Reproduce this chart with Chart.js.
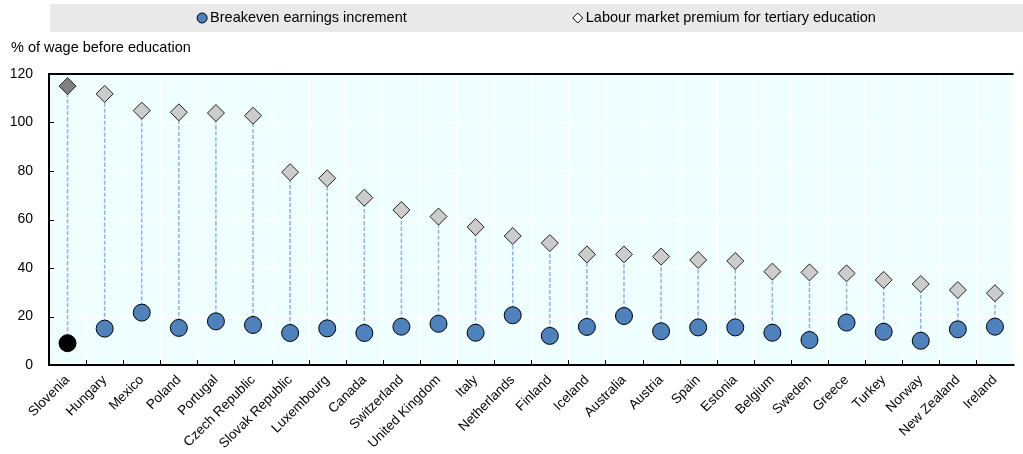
<!DOCTYPE html>
<html>
<head>
<meta charset="utf-8">
<script src="https://cdn.jsdelivr.net/npm/chart.js@4.4.1/dist/chart.umd.min.js"></script>
<style>
  html, body { margin: 0; padding: 0; background: #ffffff; }
  #wrap { width: 1023px; height: 454px; position: relative; }
</style>
</head>
<body>
<div id="wrap"><canvas id="chart" width="1023" height="454"></canvas></div>
<script>
// Countries, sorted by labour market premium
const countries = [
  'Slovenia', 'Hungary', 'Mexico', 'Poland', 'Portugal', 'Czech Republic',
  'Slovak Republic', 'Luxembourg', 'Canada', 'Switzerland', 'United Kingdom',
  'Italy', 'Netherlands', 'Finland', 'Iceland', 'Australia', 'Austria', 'Spain',
  'Estonia', 'Belgium', 'Sweden', 'Greece', 'Turkey', 'Norway', 'New Zealand', 'Ireland'
];

// Breakeven earnings increment (% of wage before education)
const breakeven = [
  9.0, 15.0, 21.6, 15.3, 18.0, 16.5,
  13.2, 15.1, 13.2, 15.8, 17.0,
  13.3, 20.5, 12.0, 15.7, 20.2, 13.9, 15.5,
  15.5, 13.3, 10.3, 17.5, 13.7, 10.0, 14.7, 15.8
];

// Labour market premium for tertiary education (% of wage before education)
const premium = [
  115.0, 111.8, 104.9, 104.2, 103.9, 102.8,
  79.5, 77.0, 69.0, 63.9, 61.2,
  56.9, 53.2, 50.3, 45.6, 45.6, 44.7, 43.3,
  42.9, 38.5, 38.2, 37.8, 35.1, 33.4, 30.9, 29.6
];

const seriesNames = ['Breakeven earnings increment', 'Labour market premium for tertiary education'];
const yTicks = [0, 20, 40, 60, 80, 100, 120];
const yTitle = '% of wage before education';
const highlighted = 'Slovenia';

const FONT = "'Liberation Sans', Arial, sans-serif";
const TICK_SIZE = 13.5;
const CAPTION_SIZE = 14.5;

const circleFill = countries.map(c => c === highlighted ? '#000000' : '#4f81bd');
const diamondFill = countries.map(c => c === highlighted ? '#808080' : '#cccccc');

// Plot-area background, frame and inward tick marks
const framePlugin = {
  id: 'frame',
  beforeDraw(chart) {
    const { ctx, chartArea: a } = chart;
    ctx.save();
    ctx.fillStyle = '#efffff';
    ctx.fillRect(a.left, a.top, a.right - a.left, a.bottom - a.top);
    ctx.restore();
  },
  afterDraw(chart) {
    const { ctx, chartArea: a, scales } = chart;
    ctx.save();
    ctx.strokeStyle = '#000000';
    ctx.lineWidth = 2;
    ctx.beginPath();
    ctx.moveTo(a.left, a.top);
    ctx.lineTo(a.right, a.top);
    ctx.stroke();
    ctx.lineWidth = 1;
    ctx.beginPath();
    for (let i = 1; i < countries.length; i++) {
      const x = Math.round(scales.x.getPixelForValue(i - 0.5)) + 0.5;
      ctx.moveTo(x, a.bottom);
      ctx.lineTo(x, a.bottom - 5);
    }
    yTicks.forEach(v => {
      if (v === 0 || v === yTicks[yTicks.length - 1]) return;
      const y = Math.round(scales.y.getPixelForValue(v)) + 0.5;
      ctx.moveTo(a.left, y);
      ctx.lineTo(a.left + 5, y);
    });
    ctx.stroke();
    ctx.restore();
  }
};

// Dashed connectors between the two markers of each country
const connectorPlugin = {
  id: 'connectors',
  beforeDatasetsDraw(chart) {
    const { ctx } = chart;
    const lo = chart.getDatasetMeta(0).data;
    const hi = chart.getDatasetMeta(1).data;
    ctx.save();
    ctx.strokeStyle = '#8db3e2';
    ctx.lineWidth = 1.5;
    ctx.setLineDash([4, 2]);
    ctx.beginPath();
    for (let i = 0; i < lo.length; i++) {
      ctx.moveTo(lo[i].x, lo[i].y);
      ctx.lineTo(hi[i].x, hi[i].y);
    }
    ctx.stroke();
    ctx.restore();
  }
};

// Legend strip and axis caption
const captionPlugin = {
  id: 'caption',
  afterDraw(chart) {
    const { ctx } = chart;
    ctx.save();
    ctx.fillStyle = '#e9e9e9';
    ctx.fillRect(50, 4, 973, 28);
    ctx.font = CAPTION_SIZE + 'px ' + FONT;
    ctx.textBaseline = 'middle';
    const w1 = ctx.measureText(seriesNames[0]).width;
    const w2 = ctx.measureText(seriesNames[1]).width;
    const gap = 166, mark = 10, pad = 3;
    const total = mark + pad + w1 + gap + mark + pad + w2;
    let x = 50 + 973 / 2 - total / 2;
    const cy = 18;
    ctx.fillStyle = '#4f81bd';
    ctx.strokeStyle = '#000000';
    ctx.lineWidth = 1;
    ctx.beginPath();
    ctx.arc(x + mark / 2, cy, 5, 0, Math.PI * 2);
    ctx.fill();
    ctx.stroke();
    ctx.fillStyle = '#000000';
    ctx.textAlign = 'left';
    ctx.fillText(seriesNames[0], x + mark + pad, cy);
    x += mark + pad + w1 + gap;
    ctx.fillStyle = '#ffffff';
    ctx.beginPath();
    ctx.moveTo(x + mark / 2, cy - 5);
    ctx.lineTo(x + mark / 2 + 5, cy);
    ctx.lineTo(x + mark / 2, cy + 5);
    ctx.lineTo(x + mark / 2 - 5, cy);
    ctx.closePath();
    ctx.fill();
    ctx.stroke();
    ctx.fillStyle = '#000000';
    ctx.fillText(seriesNames[1], x + mark + pad, cy);
    ctx.fillText(yTitle, 11, 48);
    ctx.restore();
  }
};

new Chart(document.getElementById('chart'), {
  type: 'line',
  data: {
    labels: countries,
    datasets: [
      {
        label: seriesNames[0],
        data: breakeven,
        showLine: false,
        pointStyle: 'circle',
        pointRadius: 8.5,
        pointHoverRadius: 8.5,
        pointBackgroundColor: circleFill,
        pointBorderColor: '#000000',
        pointBorderWidth: 1,
        order: 0
      },
      {
        label: seriesNames[1],
        data: premium,
        showLine: false,
        pointStyle: 'rectRot',
        pointRadius: 8.5,
        pointHoverRadius: 8.5,
        pointBackgroundColor: diamondFill,
        pointBorderColor: '#222222',
        pointBorderWidth: 1,
        order: 1
      }
    ]
  },
  options: {
    responsive: false,
    animation: false,
    events: [],
    layout: { padding: { top: 74, left: 0, right: 0, bottom: 0 } },
    plugins: {
      legend: { display: false },
      title: { display: false },
      tooltip: { enabled: false }
    },
    scales: {
      x: {
        type: 'category',
        offset: true,
        grid: { offset: true, color: '#ffffff', lineWidth: 1.5, drawTicks: false },
        border: { display: true, color: '#000000', width: 2 },
        ticks: {
          autoSkip: false,
          minRotation: 45,
          maxRotation: 45,
          padding: 7,
          color: '#000000',
          font: { family: FONT, size: TICK_SIZE }
        },
        afterFit(scale) { scale.height = 89; }
      },
      y: {
        min: 0,
        max: 120,
        grid: { color: '#ffffff', lineWidth: 1.5, drawTicks: false },
        border: { display: true, color: '#000000', width: 2 },
        ticks: {
          stepSize: 20,
          padding: 16,
          color: '#000000',
          font: { family: FONT, size: 14 }
        },
        afterFit(scale) { scale.width = 49; }
      }
    }
  },
  plugins: [framePlugin, connectorPlugin, captionPlugin]
});
</script>
</body>
</html>
